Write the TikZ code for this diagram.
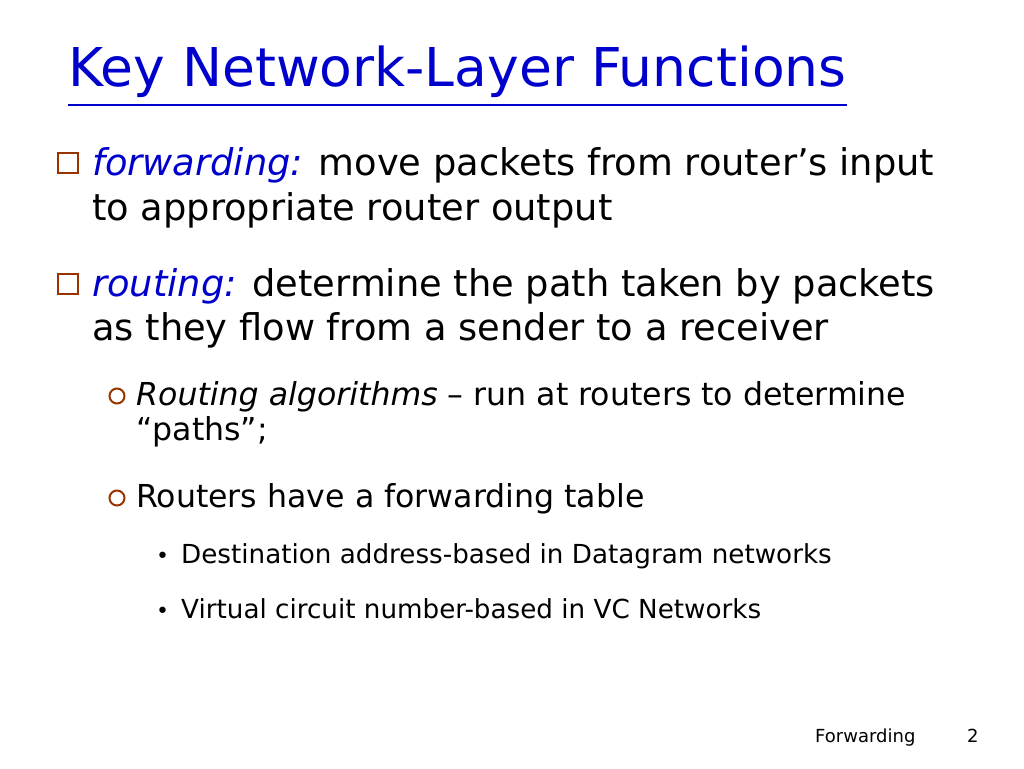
\documentclass[tikz,border=0pt]{standalone}
\usepackage{fontspec}
\setmainfont{DejaVu Sans}
\definecolor{tblue}{RGB}{0,0,204}
\definecolor{bul}{RGB}{153,51,0}
\tikzset{t/.style={anchor=base west,inner sep=0pt},
 sq/.style={draw=bul,line width=2pt,minimum size=20pt,inner sep=0pt},
 ci/.style={draw=bul,line width=2pt,circle,minimum size=15pt,inner sep=0pt}}
\begin{document}
\begin{tikzpicture}[x=1pt,y=-1pt]
\useasboundingbox (0,0) rectangle (1024,768);
\node[t,text=tblue,font=\fontsize{53.5}{58}\selectfont] (title) at (68,86) {Key Network-Layer Functions};
\draw[tblue,line width=2pt] (title.south west)++(0,8) coordinate (u1) -- (u1-|title.east);
\node[sq] (b1) at (68,163) {};
\node[t,font=\fontsize{36.8}{40}\selectfont] (l1) at (92,175) {\textcolor{tblue}{\itshape forwarding:} move packets from router’s input};
\node[t,font=\fontsize{36.8}{40}\selectfont] (l2) at (92,220) {to appropriate router output};
\node[sq] (b2) at (68,284) {};
\node[t,font=\fontsize{36.8}{40}\selectfont] (l3) at (92,296) {\textcolor{tblue}{\itshape routing:} determine the path taken by packets};
\node[t,font=\fontsize{36.8}{40}\selectfont] (l4) at (92,340) {as they flow from a sender to a receiver};
\node[ci] (c1) at (117,396) {};
\node[t,font=\fontsize{31.6}{34}\selectfont] (l5) at (136,405) {\itshape Routing algorithms\upshape{} – run at routers to determine};
\node[t,font=\fontsize{31.6}{34}\selectfont] (l6) at (136,440) {“paths”;};
\node[ci] (c2) at (117,498) {};
\node[t,font=\fontsize{31.6}{34}\selectfont] (l7) at (136,507) {Routers have a forwarding table};
\node[t,font=\fontsize{22}{26}\selectfont] (d1) at (156,563) {•};
\node[t,font=\fontsize{26.2}{30}\selectfont] (l8) at (181,563) {Destination address-based in Datagram networks};
\node[t,font=\fontsize{22}{26}\selectfont] (d2) at (156,618) {•};
\node[t,font=\fontsize{26.2}{30}\selectfont] (l9) at (181,618) {Virtual circuit number-based in VC Networks};
\node[t,font=\fontsize{18}{20}\selectfont] (f1) at (815,742) {Forwarding};
\node[t,font=\fontsize{18}{20}\selectfont] (f2) at (967,742) {2};
\end{tikzpicture}
\end{document}
